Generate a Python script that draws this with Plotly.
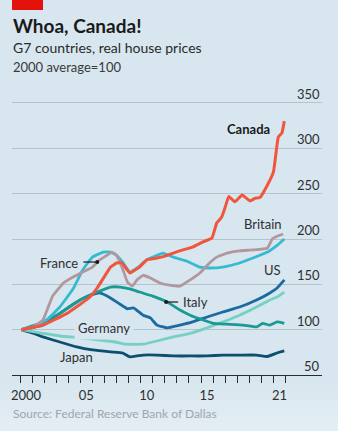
import plotly.graph_objects as go

# Real house prices, G7 countries (2000 average = 100), sampled by year fraction
canada_x = [2000.1, 2001.9, 2003.9, 2005.8, 2006.4, 2007.5, 2008.0, 2008.45, 2009.1, 2009.9,
            2010.5, 2011.35, 2012.2, 2012.7, 2013.5, 2014.3, 2015.2, 2015.9, 2016.3, 2016.7,
            2017.0, 2017.3, 2017.8, 2018.4, 2019.05, 2019.5, 2019.9, 2020.5, 2021.0, 2021.4,
            2021.7, 2021.9]
canada_y = [100, 105, 118, 136, 146, 169, 173.5, 173.5, 162.5, 169,
            177, 179, 182, 184.5, 188, 191, 197, 201, 217.6, 224,
            235, 247, 241, 248.5, 242, 245, 246, 259.5, 274, 312.5,
            317, 330]

britain_x = [2000.1, 2001.1, 2001.9, 2002.7, 2003.6, 2004.4, 2005.2, 2006.0, 2006.6, 2007.2,
             2007.6, 2008.0, 2008.45, 2008.9, 2009.3, 2009.7, 2010.2, 2010.8, 2011.6, 2012.4,
             2013.25, 2014.1, 2014.9, 2015.7, 2016.3, 2017.15, 2018.2, 2019.3, 2020.5, 2020.9,
             2021.3, 2021.8]
britain_y = [100, 103, 110.7, 137, 151.5, 158, 163.6, 169, 177, 182,
             185.6, 182, 169, 152.6, 148, 155, 160, 157, 151.5, 149,
             148, 155, 162.5, 173.5, 180, 184.5, 187, 188, 190, 200,
             203, 205.5]

france_x = [2000.1, 2001.1, 2002.2, 2003.3, 2004.4, 2005.2, 2006.0, 2006.9, 2007.5, 2008.0,
            2008.5, 2009.1, 2009.7, 2010.5, 2011.35, 2011.85, 2012.7, 2013.8, 2014.9, 2015.7,
            2016.8, 2018.2, 2019.3, 2020.5, 2021.3, 2021.9]
france_y = [100, 103, 110.7, 125, 145, 166, 180, 185.6, 185.6, 182,
            174.6, 163.6, 168, 177, 182, 184.5, 180, 175.7, 169, 168,
            169, 173.5, 179, 185.6, 193, 200]

italy_x = [2000.1, 2001.65, 2003.3, 2005.0, 2006.4, 2007.5, 2008.3, 2009.1, 2009.9, 2011.0,
           2012.2, 2013.25, 2014.1, 2014.9, 2016.0, 2017.15, 2018.5, 2019.6, 2020.1, 2020.7,
           2021.3, 2021.9]
italy_y = [100, 107, 118, 133, 141.5, 147, 147, 145, 141.5, 137,
           130.5, 121.7, 116, 112, 107, 106, 105, 103, 107, 105,
           108.5, 107]

us_x = [2000.1, 2001.9, 2003.3, 2004.7, 2005.8, 2006.6, 2007.5, 2008.3, 2008.9, 2009.4,
        2010.2, 2010.8, 2011.35, 2012.2, 2013.25, 2014.3, 2015.5, 2016.8, 2018.2, 2019.6,
        2020.7, 2021.3, 2021.9]
us_y = [100, 105, 118, 130.5, 138, 140.5, 135, 128, 123, 124,
        116, 113, 105, 102, 105, 108.5, 114, 119.5, 125, 132.7,
        140.5, 146, 155]

germany_x = [2000.1, 2001.9, 2003.3, 2005.0, 2006.6, 2007.9, 2008.7, 2010.2, 2011.35, 2012.7,
             2014.1, 2015.5, 2016.8, 2018.2, 2019.6, 2020.7, 2021.3, 2021.9]
germany_y = [100, 96, 93, 91, 88.6, 86.4, 84, 84, 87.5, 92,
             96, 102, 108.5, 116, 125, 132.7, 136, 141.5]

japan_x = [2000.1, 2001.1, 2001.9, 2003.3, 2004.7, 2006.0, 2007.5, 2008.5, 2009.1, 2010.2,
           2011.35, 2012.7, 2014.1, 2015.5, 2016.8, 2018.2, 2019.6, 2020.5, 2021.3, 2021.9]
japan_y = [100, 96, 92, 86.4, 81, 77.6, 75.4, 74.3, 70, 72,
           72, 71, 71, 71, 72, 72, 72, 70.4, 74.3, 76.5]

year_ticks = list(range(2000, 2023))
year_label_pos = [2000.5, 2005.5, 2010.5, 2015.5, 2021.5]
year_labels = ["2000", "05", "10", "15", "21"]
value_ticks = [50, 100, 150, 200, 250, 300, 350]

BG = "#d7e6ef"
FONT = "Lato"
TEXT = "#2f2f2f"

series = [
    ("Japan", japan_x, japan_y, "#0d4f6e", 2.8),
    ("Germany", germany_x, germany_y, "#76d0c3", 2.8),
    ("US", us_x, us_y, "#1b6aa1", 2.8),
    ("Italy", italy_x, italy_y, "#1a9a93", 2.8),
    ("France", france_x, france_y, "#35bbd0", 2.8),
    ("Britain", britain_x, britain_y, "#b3979f", 2.8),
    ("Canada", canada_x, canada_y, "#f2553d", 3.0),
]

fig = go.Figure()
for name, xs, ys, color, w in series:
    fig.add_trace(go.Scatter(x=xs, y=ys, mode="lines", name=name,
                             line=dict(color=color, width=w, shape="spline", smoothing=0.3),
                             hoverinfo="skip"))

# Layout geometry in pixels
W, H = 338, 431
L, R, T, B = 12, 322, 95, 375


def px(x):
    return (x - L) / (R - L)


def py(y):
    return (B - y) / (B - T)


annotations = []

# Value labels sit just above their gridlines, flush with the right end
for v in value_ticks:
    annotations.append(dict(x=1, y=v, xref="paper", yref="y", text=str(v), showarrow=False,
                            xanchor="right", yanchor="bottom", yshift=-1,
                            font=dict(family=FONT, size=13, color=TEXT)))

# Series labels
labels = [
    ("<b>Canada</b>", 2020.9, 321, "right", "#1a1a1a"),
    ("Britain", 2021.9, 217, "right", TEXT),
    ("US", 2021.8, 166, "right", TEXT),
    ("France", 2004.95, 174, "right", TEXT),
    ("Italy", 2013.35, 131, "left", TEXT),
    ("Japan", 2006.2, 70, "right", TEXT),
]
for text, xv, yv, anchor, col in labels:
    annotations.append(dict(x=xv, y=yv, xref="x", yref="y", text=text, showarrow=False,
                            xanchor=anchor, yanchor="middle",
                            font=dict(family=FONT, size=13, color=col)))
annotations.append(dict(x=2007.0, y=101.5, xref="x", yref="y", text="Germany", showarrow=False,
                        xanchor="center", yanchor="middle", bgcolor=BG, borderpad=3,
                        font=dict(family=FONT, size=13, color=TEXT)))

# Leader lines for France and Italy
shapes = [
    dict(type="line", xref="x", yref="y", x0=2005.25, x1=2006.4, y0=174.6, y1=174.6,
         line=dict(color="#1a1a1a", width=1.2)),
    dict(type="line", xref="x", yref="y", x0=2012.1, x1=2013.1, y0=130.5, y1=130.5,
         line=dict(color="#1a1a1a", width=1.2)),
    dict(type="rect", xref="paper", yref="paper", x0=px(12), x1=px(43), y0=py(10), y1=py(-2),
         fillcolor="#e3120b", line=dict(width=0), layer="above"),
]
fig.add_trace(go.Scatter(x=[2006.4, 2012.1], y=[174.6, 130.5], mode="markers",
                         marker=dict(color="#1a1a1a", size=4), hoverinfo="skip"))

# Headings
annotations += [
    dict(x=px(11), y=py(25), xref="paper", yref="paper", text="<b>Whoa, Canada!</b>",
         showarrow=False, xanchor="left", yanchor="middle",
         font=dict(family=FONT, size=19, color="#1a1a1a")),
    dict(x=px(11), y=py(48), xref="paper", yref="paper", text="G7 countries, real house prices",
         showarrow=False, xanchor="left", yanchor="middle",
         font=dict(family=FONT, size=14, color="#2a2a2a")),
    dict(x=px(11), y=py(67), xref="paper", yref="paper", text="2000 average=100",
         showarrow=False, xanchor="left", yanchor="middle",
         font=dict(family=FONT, size=13, color="#3a3a3a")),
    dict(x=px(11), y=py(413), xref="paper", yref="paper",
         text="Source: Federal Reserve Bank of Dallas",
         showarrow=False, xanchor="left", yanchor="middle",
         font=dict(family=FONT, size=12, color="#9ea7ad")),
]

# Soft fade to lighter at the foot of the panel
for i in range(6):
    y0 = 383 + i * 8
    shapes.append(dict(type="rect", xref="paper", yref="paper", x0=px(0), x1=px(W),
                       y0=py(y0 + 8), y1=py(y0), fillcolor="white",
                       opacity=0.06 + 0.05 * i, line=dict(width=0), layer="below"))

fig.update_layout(
    width=W, height=H,
    margin=dict(l=L, r=W - R, t=T, b=H - B, pad=0),
    paper_bgcolor=BG, plot_bgcolor=BG,
    showlegend=False,
    font=dict(family=FONT, color=TEXT),
    annotations=annotations,
    shapes=shapes,
    xaxis=dict(
        range=[2000 - 8 / 12.07, 2000 + 302 / 12.07],
        tickvals=year_label_pos, ticktext=year_labels,
        ticks="", showgrid=False, zeroline=False,
        showline=True, linecolor="#2b2b2b", linewidth=1.3,
        tickfont=dict(family=FONT, size=13, color=TEXT),
        ticklabelstandoff=8,
        minor=dict(tickvals=year_ticks, ticks="outside", ticklen=7,
                   tickcolor="#2b2b2b", tickwidth=1, showgrid=False),
    ),
    yaxis=dict(
        range=[50, 50 + 280 / 0.9067],
        tickvals=value_ticks, showticklabels=False,
        showgrid=True, gridcolor="#b5c3cb", gridwidth=1,
        zeroline=False, showline=False, ticks="",
    ),
)

fig.write_html("out.html")
